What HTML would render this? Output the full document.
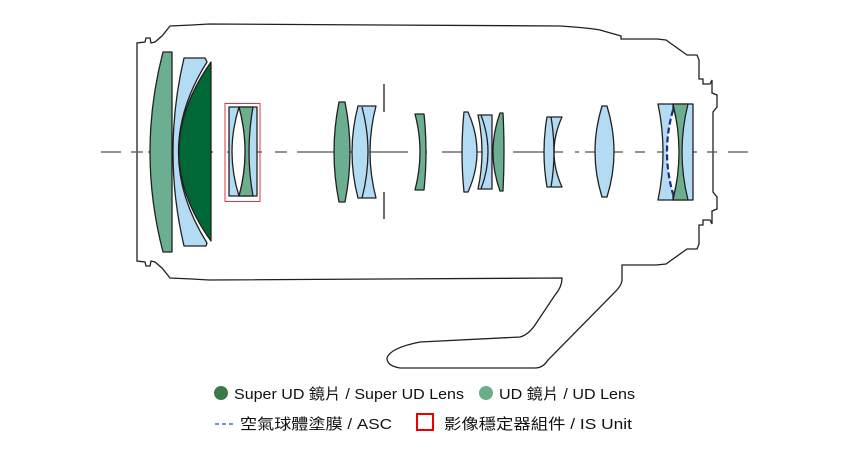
<!DOCTYPE html>
<html><head><meta charset="utf-8"><style>html,body{margin:0;padding:0;background:#fff}svg{display:block}</style></head>
<body>
<svg width="850" height="450" viewBox="0 0 850 450" xmlns="http://www.w3.org/2000/svg">
<g fill="none" stroke="#231f20" stroke-width="1.3">
<path d="M209,24 L560,26 Q590,28 600,30 L621,36 L621,39 L657,39 L666,40 L687,55 L697,55 L699,60 L699,79 L703,79 L703,84 L710,84 L712,80 L712,93 L717,95 L717,107 L713,112 L713,192 L717,197 L717,209 L712,211 L712,224 L710,220 L703,220 L703,225 L699,225 L699,244 L697,249 L687,249 L666,264 L656,265 L622,265 L622,280 Q622,284 617,290 L548,360 Q543,368 535,368 L400,368 Q387,366 387,358 Q390,348 420,342 L520,337 Q528,335 535,325 L555,295 Q562,287 562,278 L209,280 L192,279 L170,278 L162,268 L155,262 L151,261 L150,266 L146,266 L145,262 L137,261 L137,43 L145,42 L146,38 L150,38 L151,43 L155,42 L162,36 L170,26 L192,25 Z"/>
</g>
<g stroke="#555" stroke-width="1.3">
<path d="M101,152H121M131,152H143M148,152H213M227,152H262M275,152H287M297,152H408M422,152H427M442,152H500M513,152H563M575,152H579M585,152H623M635,152H645M657,152H697M707,152H717M728,152H748"/>
</g>
<g stroke="#231f20" stroke-width="1.3" stroke-linejoin="round">
<path fill="#6cae90" d="M163,52 L172,52 L172,252 L163,252 Q137,152 163,52Z"/>
<path fill="#b3dcf4" d="M184,58 L205,58 L207,62 Q150,152 207,243 L206,246 L184,246 Q162,152 184,58Z"/>
<path fill="#006837" d="M211,62 L211,241 Q147,152 211,62Z"/>
<rect x="229" y="107" width="28" height="89" fill="#b3dcf4"/>
<path fill="#6cae90" d="M239,107 L253,107 Q245,152 253,196 L239,196 Q251,152 239,107Z"/>
<path fill="#fff" d="M239,107 Q225,152 239,196 Q251,152 239,107Z"/>
<path fill="#6cae90" d="M339,102 L345,102 Q355,152 345,202 L339,202 Q329,152 339,102Z"/>
<path fill="#b3dcf4" d="M358,106 L376,106 Q364,152 376,198 L358,198 Q346,152 358,106Z"/>
<path fill="none" d="M362,107 Q374,152 362,198"/>
<path fill="#6cae90" d="M415,114 L424,114 Q428,152 424,190 L415,190 Q425,152 415,114Z"/>
<path fill="#b3dcf4" d="M464,112 L468,112 Q486,152 468,192 L464,192 Q460,152 464,112Z"/>
<path fill="#b3dcf4" d="M478,115 L492,115 L492,189 L478,189 Q486,152 478,115Z"/>
<path fill="none" d="M481,115 Q495,152 481,189"/>
<path fill="#6cae90" d="M500,113 L503,113 Q505,152 503,191 L500,191 Q486,152 500,113Z"/>
<path fill="#b3dcf4" d="M547,117 L562,117 Q546,152 562,187 L547,187 Q541,152 547,117Z"/>
<path fill="none" d="M551,117 Q557,152 551,187"/>
<path fill="#b3dcf4" d="M602,106 L607,106 Q621,152 607,197 L602,197 Q588,152 602,106Z"/>
<path fill="#b3dcf4" d="M658,104 L693,104 L693,200 L658,200 Q668,152 658,104Z"/>
<path fill="#6cae90" d="M673,104 L688,104 Q676,152 688,200 L673,200 Z"/>
<path fill="#fff" stroke="none" d="M673,110 Q661,152 673,194 Q685,152 673,110Z"/>
<path fill="none" d="M673,104 Q685,152 673,200"/>
<path fill="none" stroke="#1b2a8c" stroke-width="2.2" stroke-dasharray="6,3" d="M673,110 Q661,152 673,194"/>
<path d="M384,84V112M384,192V219" fill="none"/>
</g>
<rect x="225" y="103.5" width="35" height="98" fill="none" stroke="#e8303a" stroke-width="1"/>
<g font-family="Liberation Sans, 'Noto Sans CJK TC', sans-serif" font-size="15" fill="#111">
<circle cx="221" cy="393" r="7" fill="#3d7a49"/>
<text x="234" y="399" textLength="230" lengthAdjust="spacingAndGlyphs">Super UD 鏡片 /  Super UD Lens</text>
<circle cx="486" cy="393" r="7" fill="#6cae8a"/>
<text x="499" y="399" textLength="136" lengthAdjust="spacingAndGlyphs">UD 鏡片 / UD Lens</text>
<path d="M215,424H235" stroke="#1f3cff" stroke-width="1.2" stroke-dasharray="4,3"/>
<text x="240" y="429" textLength="152" lengthAdjust="spacingAndGlyphs">空氣球體塗膜 / ASC</text>
<rect x="417" y="414" width="16" height="16" fill="none" stroke="#e00" stroke-width="2"/>
<text x="444" y="429" textLength="188" lengthAdjust="spacingAndGlyphs">影像穩定器組件 / IS Unit</text>
</g>
</svg>
</body></html>
